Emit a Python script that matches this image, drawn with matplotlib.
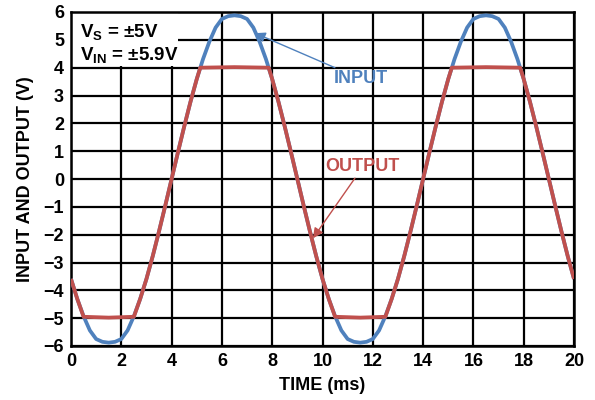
import matplotlib.pyplot as plt
from matplotlib.patches import Rectangle

INPUT_BLUE = "#4f81bd"
OUTPUT_RED = "#c0504d"

# input waveform every 0.25 ms
input_t = [i * 0.25 for i in range(81)]
input_v = [
    -3.59, -4.31, -4.93, -5.44, -5.75, -5.85, -5.88, -5.85, -5.75, -5.44,
    -4.93, -4.31, -3.59, -2.77, -1.88, -0.95, 0.0, 0.95, 1.88, 2.77,
    3.59, 4.31, 4.93, 5.44, 5.75, 5.85, 5.88, 5.85, 5.75, 5.44,
    4.93, 4.31, 3.59, 2.77, 1.88, 0.95, 0.0, -0.95, -1.88, -2.77,
    -3.59, -4.31, -4.93, -5.44, -5.75, -5.85, -5.88, -5.85, -5.75, -5.44,
    -4.93, -4.31, -3.59, -2.77, -1.88, -0.95, 0.0, 0.95, 1.88, 2.77,
    3.59, 4.31, 4.93, 5.44, 5.75, 5.85, 5.88, 5.85, 5.75, 5.44,
    4.93, 4.31, 3.59, 2.77, 1.88, 0.95, 0.0, -0.95, -1.88, -2.77,
    -3.59,
]

# clipped output, with the clip corners read directly
output_t = [
    0.0, 0.25, 0.5, 1.5, 2.5, 2.75, 3.0, 3.25, 3.5, 3.75, 4.0, 4.25, 4.5, 4.75, 5.0,
    5.14, 6.5, 7.86, 8.0, 8.25, 8.5, 8.75, 9.0, 9.25, 9.5, 9.75, 10.0,
    10.25, 10.5, 11.5, 12.5, 12.75, 13.0, 13.25, 13.5, 13.75, 14.0, 14.25, 14.5, 14.75, 15.0,
    15.14, 16.5, 17.86, 18.0, 18.25, 18.5, 18.75, 19.0, 19.25, 19.5, 19.75, 20.0,
]
output_v = [
    -3.59, -4.31, -4.95, -4.98, -4.95, -4.31, -3.59, -2.77, -1.88, -0.95, 0.0, 0.95, 1.88, 2.77, 3.59,
    4.0, 4.02, 4.0, 3.59, 2.77, 1.88, 0.95, 0.0, -0.95, -1.88, -2.77, -3.59,
    -4.31, -4.95, -4.98, -4.95, -4.31, -3.59, -2.77, -1.88, -0.95, 0.0, 0.95, 1.88, 2.77, 3.59,
    4.0, 4.02, 4.0, 3.59, 2.77, 1.88, 0.95, 0.0, -0.95, -1.88, -2.77, -3.59,
]

x_ticks = list(range(0, 21, 2))
y_ticks = list(range(-6, 7))

plt.rcParams["font.family"] = ["Liberation Sans", "DejaVu Sans"]
plt.rcParams["font.weight"] = "bold"
plt.rcParams["mathtext.fontset"] = "custom"
plt.rcParams["mathtext.rm"] = "Liberation Sans:bold"
plt.rcParams["mathtext.bf"] = "Liberation Sans:bold"

fig = plt.figure(figsize=(5.95, 4.0), dpi=100)
ax = fig.add_axes([71 / 595, 54 / 400, 503 / 595, 334 / 400])

ax.plot(input_t, input_v, color=INPUT_BLUE, linewidth=2.7, zorder=3,
        solid_capstyle="butt")
ax.plot(output_t, output_v, color=OUTPUT_RED, linewidth=2.7, zorder=4,
        solid_capstyle="butt")

ax.set_xlim(0, 20)
ax.set_ylim(-6, 6)
ax.set_xticks(x_ticks)
ax.set_yticks(y_ticks)
ax.tick_params(length=0, labelsize=13, pad=5)
for lbl in ax.get_xticklabels() + ax.get_yticklabels():
    lbl.set_fontweight("bold")
ax.grid(True, color="black", linewidth=1.6)
ax.set_axisbelow(True)
for sp in ax.spines.values():
    sp.set_linewidth(1.8)

ax.set_xlabel("TIME (ms)", fontsize=13, fontweight="bold", labelpad=5)
ax.set_ylabel("INPUT AND OUTPUT (V)", fontsize=13, fontweight="bold", labelpad=7)

# legend-style text box in the top-left corner
ax.add_patch(Rectangle((0, 1 - 0.162), 0.213, 0.162, transform=ax.transAxes,
                       facecolor="white", edgecolor="none", zorder=2))
ax.text(0.018, 0.937, r"V$_\mathrm{S}$ = ±5V", transform=ax.transAxes,
        fontsize=13.5, fontweight="bold", va="center", zorder=5)
ax.text(0.018, 0.870, r"V$_\mathrm{IN}$ = ±5.9V", transform=ax.transAxes,
        fontsize=13.5, fontweight="bold", va="center", zorder=5)

ax.annotate("INPUT", xy=(7.32, 5.24), xytext=(10.45, 3.9),
            color=INPUT_BLUE, fontsize=13, fontweight="bold",
            ha="left", va="top", zorder=6,
            arrowprops=dict(arrowstyle="-|>", color=INPUT_BLUE, lw=1.0,
                            mutation_scale=15, shrinkA=0, shrinkB=0))
ax.text(11.57, 0.46, "OUTPUT", color=OUTPUT_RED, fontsize=13,
        fontweight="bold", ha="center", va="center", zorder=6)
ax.annotate("", xy=(9.62, -2.13), xytext=(11.29, 0.03),
            arrowprops=dict(arrowstyle="-|>", color=OUTPUT_RED, lw=1.0,
                            mutation_scale=15, shrinkA=0, shrinkB=0),
            zorder=6)

fig.savefig("out.png", dpi=100)
